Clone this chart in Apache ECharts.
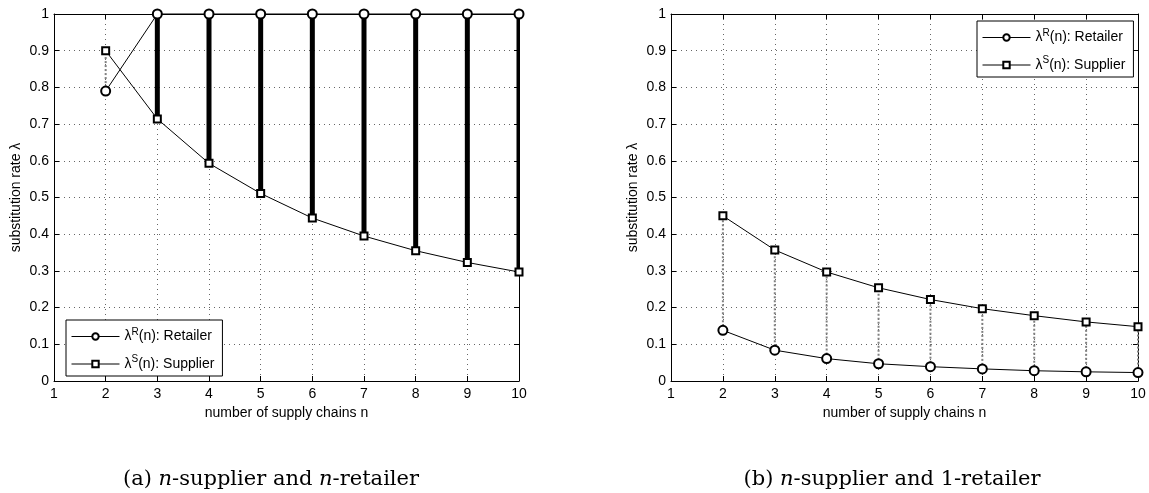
<!DOCTYPE html>
<html><head><meta charset="utf-8">
<script src="https://cdn.jsdelivr.net/npm/echarts@6/dist/echarts.min.js"></script>
<style>html,body{margin:0;padding:0;background:#fff}#c{width:1149px;height:493px}</style>
</head><body><div id="c"></div>
<script>
const nValues = [2, 3, 4, 5, 6, 7, 8, 9, 10];
// (a) n-supplier and n-retailer
const retailerA = [0.79, 1, 1, 1, 1, 1, 1, 1, 1];
const supplierA = [0.90, 0.714, 0.593, 0.511, 0.444, 0.395, 0.355, 0.323, 0.297];
// (b) n-supplier and 1-retailer
const retailerB = [0.138, 0.084, 0.061, 0.047, 0.039, 0.033, 0.028, 0.025, 0.023];
const supplierB = [0.45, 0.357, 0.297, 0.254, 0.222, 0.197, 0.178, 0.161, 0.148];
const nameR = 'λR(n): Retailer';
const nameS = 'λS(n): Supplier';
const xTitle = 'number of supply chains n';
const yTitle = 'substitution rate λ';

const FONT = '"Liberation Sans", Arial, sans-serif';
const SERIF = '"DejaVu Serif", "Liberation Serif", serif';
const chart = echarts.init(document.getElementById('c'), null, {renderer: 'canvas'});

const grids = [
  {left: 54, top: 14, width: 465, height: 367},
  {left: 671, top: 14, width: 467, height: 367}
];

function xAxes(gi) {
  return [{
    gridIndex: gi, type: 'value', min: 1, max: 10, interval: 1,
    name: xTitle, nameLocation: 'middle', nameGap: 22,
    nameTextStyle: {fontFamily: FONT, fontSize: 14, color: '#000'},
    axisLine: {onZero: false, lineStyle: {color: '#000', width: 1}},
    axisTick: {inside: true, length: 5, lineStyle: {color: '#000'}},
    axisLabel: {fontFamily: FONT, fontSize: 14, color: '#000', margin: 6},
    splitLine: {show: true, lineStyle: {color: '#666', type: [1, 4], width: 1}}
  }, {
    gridIndex: gi, type: 'value', min: 1, max: 10, interval: 1, position: 'top',
    axisLine: {onZero: false, lineStyle: {color: '#000', width: 1}},
    axisTick: {inside: true, length: 5, lineStyle: {color: '#000'}},
    axisLabel: {show: false}, splitLine: {show: false}
  }];
}
function yAxes(gi) {
  return [{
    gridIndex: gi, type: 'value', min: 0, max: 1, interval: 0.1,
    name: yTitle, nameLocation: 'middle', nameGap: 31, nameRotate: 90,
    nameTextStyle: {fontFamily: FONT, fontSize: 14, color: '#000'},
    axisLine: {onZero: false, lineStyle: {color: '#000', width: 1}},
    axisTick: {inside: true, length: 5, lineStyle: {color: '#000'}},
    axisLabel: {fontFamily: FONT, fontSize: 14, color: '#000', margin: 5},
    splitLine: {show: true, lineStyle: {color: '#666', type: [1, 4], width: 1}}
  }, {
    gridIndex: gi, type: 'value', min: 0, max: 1, interval: 0.1, position: 'right',
    axisLine: {onZero: false, lineStyle: {color: '#000', width: 1}},
    axisTick: {inside: true, length: 5, lineStyle: {color: '#000'}},
    axisLabel: {show: false}, splitLine: {show: false}
  }];
}

function stemData(ret, sup) {
  return nValues.map((n, i) => [n, Math.min(ret[i], sup[i]), Math.max(ret[i], sup[i]), ret[i] >= sup[i] ? 1 : 0]);
}
function renderStem(params, api) {
  const x = api.value(0), lo = api.value(1), hi = api.value(2), thick = api.value(3);
  const p1 = api.coord([x, lo]);
  const p2 = api.coord([x, hi]);
  const cs = params.coordSys;
  if (thick) {
    const w = 5;
    const x0 = p1[0] - w / 2;
    const x1 = Math.min(p1[0] + w / 2, cs.x + cs.width);
    return {type: 'rect', shape: {x: x0, y: p2[1], width: x1 - x0, height: p1[1] - p2[1]},
      style: {fill: '#000'}};
  }
  return {type: 'line', shape: {x1: p1[0], y1: p1[1], x2: p2[0], y2: p2[1]},
    style: {stroke: '#808080', lineWidth: 2, lineDash: [2, 2]}};
}

function lineSeries(name, data, symbol, size, xi, yi) {
  return {
    name, type: 'line', xAxisIndex: xi, yAxisIndex: yi,
    data: nValues.map((n, i) => [n, data[i]]),
    symbol, symbolSize: size, showSymbol: true,
    lineStyle: {color: '#000', width: 1},
    itemStyle: {color: '#000', borderColor: '#000', borderWidth: 1},
    emphasis: {disabled: true}, animation: false, z: 5, clip: false
  };
}

function legendFmt(name) {
  return '{a|λ}{s|' + name.charAt(1) + '}{a|' + name.slice(2) + '}';
}
const legendText = {
  fontFamily: FONT, fontSize: 14, color: '#000',
  rich: {
    a: {fontFamily: FONT, fontSize: 14, color: '#000'},
    s: {fontFamily: FONT, fontSize: 10, color: '#000', padding: [0, 0, 9, 0]}
  }
};
function legend(pos) {
  return Object.assign({
    data: [nameR, nameS], orient: 'vertical',
    backgroundColor: '#fff', borderColor: '#000', borderWidth: 1,
    padding: [7, 8, 5, 5], itemGap: 11, itemWidth: 48, itemHeight: 8,
    lineStyle: {width: 1},
    textStyle: legendText, formatter: legendFmt, selectedMode: false
  }, pos);
}

const capRich = {
  r: {fontFamily: SERIF, fontSize: 21, color: '#000'},
  i: {fontFamily: SERIF, fontSize: 21, fontStyle: 'italic', color: '#000'}
};

const option = {
  backgroundColor: '#fff',
  animation: false,
  grid: grids,
  xAxis: [...xAxes(0), ...xAxes(1)],
  yAxis: [...yAxes(0), ...yAxes(1)],
  legend: [
    legend({left: 66, top: 320}),
    legend({left: 977, top: 21})
  ],
  series: [
    {type: 'custom', xAxisIndex: 0, yAxisIndex: 0, data: stemData(retailerA, supplierA), renderItem: renderStem, z: 2, silent: true},
    {type: 'custom', xAxisIndex: 2, yAxisIndex: 2, data: stemData(retailerB, supplierB), renderItem: renderStem, z: 2, silent: true},
    lineSeries(nameR, retailerA, 'emptyCircle', 9, 0, 0),
    lineSeries(nameS, supplierA, 'emptyRect', 7, 0, 0),
    lineSeries(nameR, retailerB, 'emptyCircle', 9, 2, 2),
    lineSeries(nameS, supplierB, 'emptyRect', 7, 2, 2)
  ],
  graphic: [
    {type: 'text', x: 271, y: 480, style: {
      text: '{r|(a) }{i|n}{r|-supplier and }{i|n}{r|-retailer}',
      align: 'center', verticalAlign: 'middle', rich: capRich}},
    {type: 'text', x: 892, y: 480, style: {
      text: '{r|(b) }{i|n}{r|-supplier and 1-retailer}',
      align: 'center', verticalAlign: 'middle', rich: capRich}}
  ]
};
chart.setOption(option);
</script>
</body></html>
